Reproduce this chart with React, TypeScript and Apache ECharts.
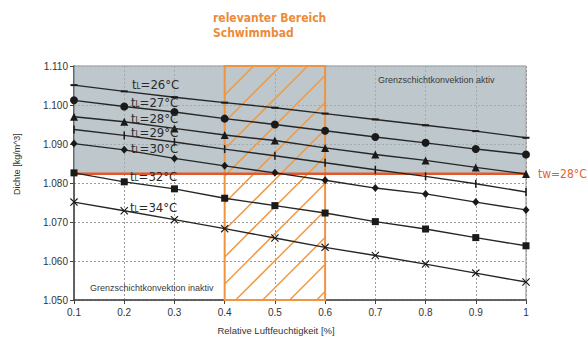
import React, { useEffect, useRef } from "react";
import * as echarts from "echarts";

const humidity = [0.1, 0.2, 0.3, 0.4, 0.5, 0.6, 0.7, 0.8, 0.9, 1.0];
const t26 = [1.1051, 1.1035, 1.102, 1.1006, 1.0993, 1.0978, 1.0963, 1.0948, 1.0933, 1.0916];
const t27 = [1.1012, 1.0996, 1.0982, 1.0965, 1.095, 1.0934, 1.0918, 1.0903, 1.0887, 1.0873];
const t28 = [1.097, 1.0957, 1.094, 1.0923, 1.0909, 1.089, 1.0873, 1.0858, 1.084, 1.0823];
const t29 = [1.0937, 1.0922, 1.0905, 1.0887, 1.087, 1.0852, 1.0834, 1.0817, 1.0798, 1.0777];
const t30 = [1.0901, 1.0885, 1.0863, 1.0844, 1.0826, 1.0807, 1.0787, 1.0772, 1.0751, 1.0731];
const t32 = [1.0826, 1.0803, 1.0785, 1.0761, 1.0742, 1.0723, 1.0701, 1.0682, 1.066, 1.0639];
const t34 = [1.0751, 1.0729, 1.0706, 1.0683, 1.0659, 1.0635, 1.0614, 1.0592, 1.0569, 1.0546];

const seriesNames = ["26", "27", "28", "29", "30", "32", "34"];
const seriesValues = [t26, t27, t28, t29, t30, t32, t34];
const waterDensity = 1.0824; // tw = 28°C
const relevantRange = [0.4, 0.6];
const yMin = 1.05;
const yMax = 1.11;

const xPath = "path://M0,1L1,0L5,4L9,0L10,1L6,5L10,9L9,10L5,6L1,10L0,9L4,5Z";
const symbols: any[] = ["rect", "circle", "triangle", "rect", "diamond", "rect", xPath];
const symbolSizes: any[] = [[7, 2], 8, 8, [1.5, 8], [7, 8], 7, 8];

const labelPos = [
  [132, 84],
  [131, 102],
  [131, 118],
  [131, 132],
  [131, 148],
  [130, 176],
  [130, 207],
];

export default function App() {
  const ref = useRef<HTMLDivElement>(null);
  useEffect(() => {
    if (!ref.current) return;
    const chart = echarts.init(ref.current, null, { renderer: "svg" });
    const lineSeries = seriesValues.map((vals, i) => ({
      type: "line",
      name: "tL=" + seriesNames[i],
      data: humidity.map((h, j) => [h, vals[j]]),
      symbol: symbols[i],
      symbolSize: symbolSizes[i],
      showAllSymbol: true,
      lineStyle: { color: "#262626", width: 1.4 },
      itemStyle: { color: "#1a1a1a" },
      z: 5,
    }));
    const option: any = {
      animation: false,
      grid: {
        left: 74,
        right: 61,
        top: 66,
        bottom: 38,
        show: true,
        borderColor: "#8a8a8a",
        borderWidth: 1,
        backgroundColor: "transparent",
      },
      xAxis: {
        type: "value",
        min: 0.1,
        max: 1.0,
        interval: 0.1,
        axisLine: { show: true, lineStyle: { color: "#444", width: 1.5 } },
        axisTick: { show: true, length: 4, lineStyle: { color: "#444" } },
        axisLabel: {
          color: "#333",
          fontSize: 10,
          fontFamily: "Liberation Sans, Arial, sans-serif",
          margin: 7,
          formatter: (v: number) => String(Math.round(v * 10) / 10),
        },
        splitLine: { show: true, lineStyle: { color: "#9a9a9a", type: [2, 2], width: 1 } },
      },
      yAxis: {
        type: "value",
        min: yMin,
        max: yMax,
        interval: 0.01,
        axisLine: { show: true, lineStyle: { color: "#444", width: 1.5 } },
        axisTick: { show: true, length: 4, lineStyle: { color: "#444" } },
        axisLabel: {
          color: "#333",
          fontSize: 10,
          fontFamily: "Liberation Sans, Arial, sans-serif",
          margin: 6,
          formatter: (v: number) => v.toFixed(3),
        },
        splitLine: { show: true, lineStyle: { color: "#9a9a9a", type: [2, 2], width: 1 } },
      },
      series: [
        {
          type: "line",
          data: [],
          silent: true,
          z: 1,
          markArea: {
            silent: true,
            itemStyle: { color: "rgba(163,177,185,0.72)" },
            data: [[{ coord: [0.1, waterDensity] }, { coord: [1.0, yMax] }]],
          },
        },
        {
          type: "custom",
          z: 3,
          silent: true,
          data: [[relevantRange[0], relevantRange[1]]],
          renderItem: (params: any, api: any) => {
            const p0 = api.coord([api.value(0), yMax]);
            const p1 = api.coord([api.value(1), yMin]);
            const x0 = p0[0], y0 = p0[1], x1 = p1[0], y1 = p1[1];
            const children: any[] = [];
            const step = 27;
            const start = x0 + y0 + 29 - step * 2;
            for (let c = start; c < x1 + y1 + step; c += step) {
              const xa = Math.max(x0, c - y1);
              const xb = Math.min(x1, c - y0);
              if (xa < xb) {
                children.push({
                  type: "line",
                  shape: { x1: xa, y1: c - xa, x2: xb, y2: c - xb },
                  style: { stroke: "#f09a45", lineWidth: 1.5 },
                });
              }
            }
            children.push({
              type: "rect",
              shape: { x: x0, y: y0, width: x1 - x0, height: y1 - y0 },
              style: { fill: "none", stroke: "#ef9440", lineWidth: 2 },
            });
            return { type: "group", children };
          },
        },
        {
          type: "line",
          name: "tw",
          data: [
            [0.1, waterDensity],
            [1.0, waterDensity],
          ],
          silent: true,
          symbol: "none",
          z: 4,
          lineStyle: { color: "#e2582a", width: 2.5 },
        },
        ...lineSeries,
      ],
      graphic: [
        {
          type: "text",
          x: 213,
          y: 18,
          style: {
            text: "relevanter Bereich",
            fill: "#ea8c3c",
            font: "bold 12px 'DejaVu Sans Condensed', 'DejaVu Sans', sans-serif",
            textVerticalAlign: "middle",
          },
        },
        {
          type: "text",
          x: 213,
          y: 33,
          style: {
            text: "Schwimmbad",
            fill: "#ea8c3c",
            font: "bold 12px 'DejaVu Sans Condensed', 'DejaVu Sans', sans-serif",
            textVerticalAlign: "middle",
          },
        },
        {
          type: "text",
          x: 538,
          y: 174,
          style: {
            text: "tw=28°C",
            fill: "#e5622e",
            font: "12px 'DejaVu Sans Condensed', 'DejaVu Sans', sans-serif",
            textVerticalAlign: "middle",
          },
        },
        {
          type: "text",
          x: 378,
          y: 80,
          z: 10,
          style: {
            text: "Grenzschichtkonvektion aktiv",
            fill: "#3a3a3a",
            font: "9px 'Liberation Sans', Arial, sans-serif",
            textVerticalAlign: "middle",
          },
        },
        {
          type: "text",
          x: 90,
          y: 288,
          z: 10,
          style: {
            text: "Grenzschichtkonvektion inaktiv",
            fill: "#3a3a3a",
            font: "9px 'Liberation Sans', Arial, sans-serif",
            textVerticalAlign: "middle",
          },
        },
        {
          type: "text",
          x: 276,
          y: 330,
          style: {
            text: "Relative Luftfeuchtigkeit [%]",
            fill: "#333",
            font: "9.5px 'Liberation Sans', Arial, sans-serif",
            textAlign: "center",
            textVerticalAlign: "middle",
          },
        },
        {
          type: "text",
          x: 17,
          y: 164,
          rotation: Math.PI / 2,
          style: {
            text: "Dichte [kg/m^3]",
            fill: "#333",
            font: "9px 'Liberation Sans Narrow', 'Liberation Sans', Arial, sans-serif",
            textAlign: "center",
            textVerticalAlign: "middle",
          },
        },
        ...seriesNames.map((n, i) => ({
          type: "text",
          x: labelPos[i][0],
          y: labelPos[i][1],
          z: 10,
          style: {
            text: "{t|t}{s|L}{t|=" + n + "°C}",
            textVerticalAlign: "middle",
            rich: {
              t: {
                fill: "#2a2a2a",
                font: "13px 'DejaVu Sans Condensed', 'DejaVu Sans', sans-serif",
              },
              s: {
                fill: "#2a2a2a",
                font: "8px 'DejaVu Sans Condensed', 'DejaVu Sans', sans-serif",
                padding: [4, 0, 0, 0],
              },
            },
          },
        })),
      ],
    };
    chart.setOption(option);
    return () => chart.dispose();
  }, []);
  return (
    <div
      ref={ref}
      style={{ position: "fixed", left: 0, top: 0, width: 587, height: 338, background: "#fff" }}
    />
  );
}
